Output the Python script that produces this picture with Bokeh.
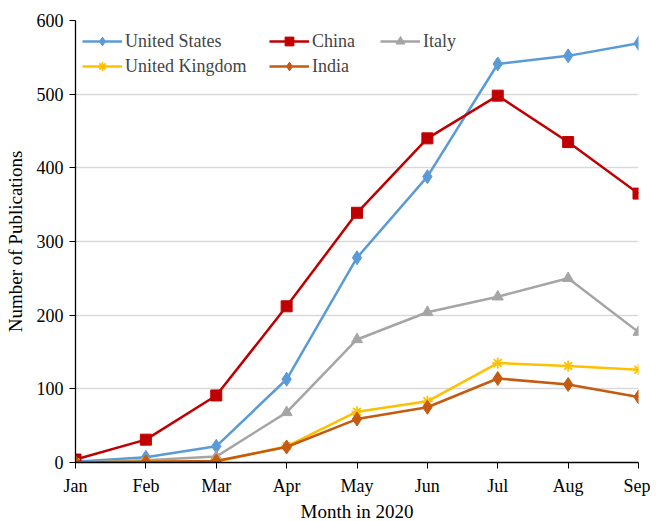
from bokeh.plotting import figure
from bokeh.models import Range1d, FixedTicker, Legend, LegendItem
from bokeh.embed import file_html
from bokeh.resources import INLINE

months = ["Jan", "Feb", "Mar", "Apr", "May", "Jun", "Jul", "Aug", "Sep"]
us = [1, 7, 22, 113, 278, 388, 541, 552, 569]
china = [4, 31, 91, 212, 339, 440, 498, 435, 365]
italy = [0, 3, 8, 68, 167, 204, 225, 250, 177]
uk = [0, 1, 1, 22, 69, 83, 135, 131, 126]
india = [0, 1, 2, 21, 59, 75, 114, 106, 89]

FONT = "Liberation Serif"
xs = list(range(len(months)))

FW, FH = 563, 442
BL, BR, BT, BB = 75, 12, 20, 56

p = figure(frame_width=FW, frame_height=FH, output_backend="svg", toolbar_location=None,
           x_range=Range1d(0, len(months) - 1), y_range=Range1d(0, 600),
           min_border_left=BL, min_border_right=BR, min_border_top=BT, min_border_bottom=BB)
p.outline_line_color = None
p.xgrid.grid_line_color = None
p.ygrid.grid_line_color = "#d9d9d9"
p.ygrid.grid_line_width = 1.3

p.xaxis.ticker = FixedTicker(ticks=xs)
p.xaxis.major_label_overrides = {i: m for i, m in enumerate(months)}
p.yaxis.ticker = FixedTicker(ticks=[0, 100, 200, 300, 400, 500, 600])
for ax in (p.xaxis[0], p.yaxis[0]):
    ax.axis_line_color = "black"
    ax.axis_line_width = 1.3
    ax.major_tick_line_color = "black"
    ax.major_tick_out = 6
    ax.major_tick_in = 0
    ax.minor_tick_line_color = None
    ax.major_label_text_font = FONT
    ax.major_label_text_font_size = "18px"
    ax.major_label_text_color = "black"
    ax.axis_label_text_font = FONT
    ax.axis_label_text_font_size = "19px"
    ax.axis_label_text_font_style = "normal"
    ax.axis_label_text_color = "black"
p.xaxis.axis_label = "Month in 2020"
p.yaxis.axis_label = "Number of Publications"
p.xaxis.axis_label_standoff = 2
p.yaxis.axis_label_standoff = 8
p.xaxis.major_label_standoff = 7
p.yaxis.major_label_standoff = 6

series = [
    ("United States", us, "#5B9BD5", "diamond", 14),
    ("China", china, "#C00000", "square", 11),
    ("Italy", italy, "#A5A5A5", "triangle", 11),
    ("United Kingdom", uk, "#FFC000", "asterisk", 11),
    ("India", india, "#C55A11", "diamond", 14),
]
items = {}
for name, ys, color, marker, size in series:
    r1 = p.line(xs, ys, line_color=color, line_width=2.5)
    if marker == "asterisk":
        r2 = p.scatter(xs, ys, marker=marker, size=size, line_color=color, line_width=1.8)
    else:
        r2 = p.scatter(xs, ys, marker=marker, size=size, fill_color=color, line_color=color)
    items[name] = LegendItem(label=name, renderers=[r1, r2])

columns = [(["United States", "United Kingdom"], 7),
           (["China", "India"], 194),
           (["Italy"], 305)]
ROW_H, ROW_GAP, TOP_OFF = 22, 3, 10
for names, xoff in columns:
    n = len(names)
    lh = n * ROW_H + (n - 1) * ROW_GAP
    legend = Legend(items=[items[nm] for nm in names],
                    location=(xoff, FH - TOP_OFF - lh),
                    label_text_font=FONT, label_text_font_size="18px",
                    glyph_width=40, glyph_height=ROW_H, spacing=ROW_GAP,
                    label_standoff=3, padding=0, margin=0,
                    background_fill_alpha=0, border_line_color=None)
    p.add_layout(legend)

open("out.html", "w").write(file_html(p, INLINE))
